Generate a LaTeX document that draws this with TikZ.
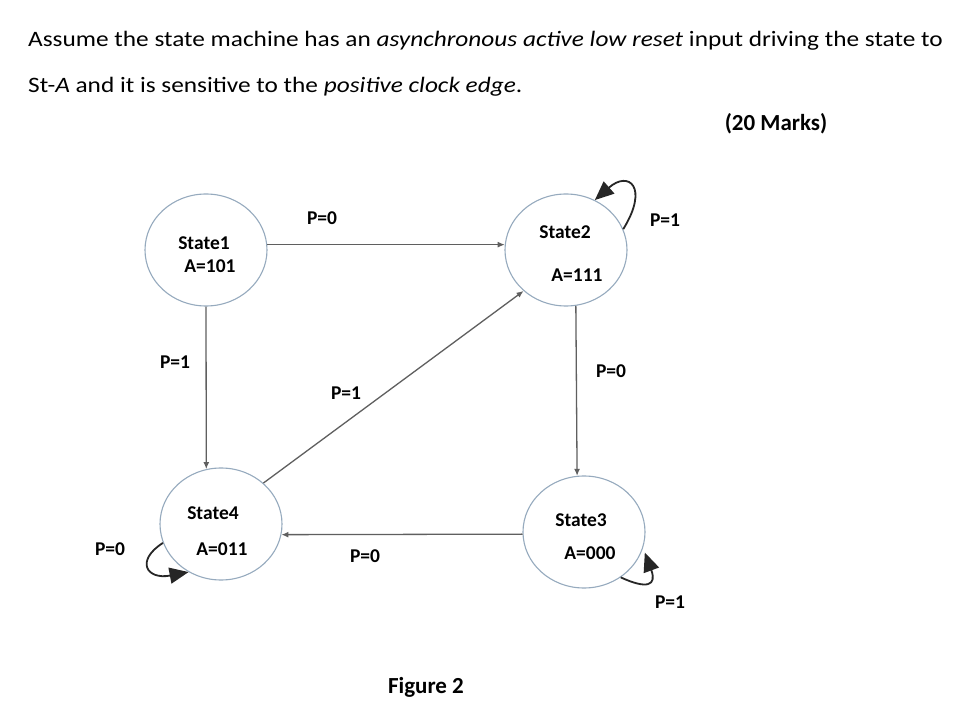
\documentclass[tikz,border=0pt]{standalone}
\usepackage{fontspec}
\setmainfont{Carlito}
\newfontfamily\widefont[FakeStretch=1.15]{Carlito}
\usetikzlibrary{shapes.geometric,arrows.meta}

\definecolor{stateblue}{RGB}{150,170,190}
\definecolor{edgegray}{RGB}{95,95,95}

\begin{document}
\begin{tikzpicture}[x=1pt,y=-1pt,
	every node/.style={font=\fontsize{21}{25}\selectfont, inner sep=0pt},
	state/.style={draw=stateblue, line width=1.1pt, ellipse, minimum width=122pt, minimum height=112pt},
	lbl/.style={font=\fontsize{19.5}{22}\selectfont\bfseries},
	edge/.style={draw=edgegray, line width=1.3pt, -{Latex[length=7pt,width=6pt]}},
	selfloop/.style={draw=black!85, line width=1.8pt, -{Triangle[length=19pt,width=16pt]}}]
	\fill[white] (0,0) rectangle (970,719);
	\useasboundingbox (0,0) rectangle (970,719);

	\node[anchor=base west, font=\widefont\fontsize{22}{26}\selectfont] (line1) at (28,47) {Assume the state machine has an \textit{asynchronous active low reset} input driving the state to};
	\node[anchor=base west, font=\widefont\fontsize{22}{26}\selectfont] (line2) at (28,93) {St-\textit{A} and it is sensitive to the \textit{positive clock edge}.};
	\node[anchor=base, font=\fontsize{23}{27}\selectfont\bfseries] (marks) at (776,131) {(20 Marks)};

	\node[state] (s1) at (206,250) {};
	\node[state] (s2) at (566,250) {};
	\node[state] (s3) at (584,532) {};
	\node[state] (s4) at (221,524) {};

	\node[lbl] (s1name) at (204,243) {State1};
	\node[lbl] (s1out) at (210,266) {A=101};
	\node[lbl] (s2name) at (565,232) {State2};
	\node[lbl] (s2out) at (577,275) {A=111};
	\node[lbl] (s3name) at (581,520) {State3};
	\node[lbl] (s3out) at (590,553) {A=000};
	\node[lbl] (s4name) at (213,513) {State4};
	\node[lbl] (s4out) at (222,549) {A=011};

	\draw[edge] (s1.5) -- (s2.175);
	\draw[edge] (s1.270) -- (s4.105);
	\draw[edge] (s4.44) -- (s2.224);
	\draw[edge] (s2.280) -- (s3.97);
	\draw[edge] (s3.182) -- (s4.350);

	\draw[selfloop] (s2.20) .. controls +(26,-42) and +(34,-30) .. (s2.60);
	\draw[selfloop] (s4.198) .. controls +(-28,18) and +(-42,8) .. (s4.236);
	\draw[selfloop, shorten >=5pt] (s3.309) .. controls +(26,12) and +(14,38) .. (s3.345);

	\node[lbl] (p12) at (322,218) {P=0};
	\node[lbl] (p14) at (175,362) {P=1};
	\node[lbl] (p42) at (346,393) {P=1};
	\node[lbl] (p23) at (611,371) {P=0};
	\node[lbl] (p34) at (365,556) {P=0};
	\node[lbl] (p22) at (665,220) {P=1};
	\node[lbl] (p44) at (110,549) {P=0};
	\node[lbl] (p33) at (670,602) {P=1};

	\node[font=\fontsize{23}{27}\selectfont\bfseries] (fig) at (426,687) {Figure 2};
\end{tikzpicture}
\end{document}
